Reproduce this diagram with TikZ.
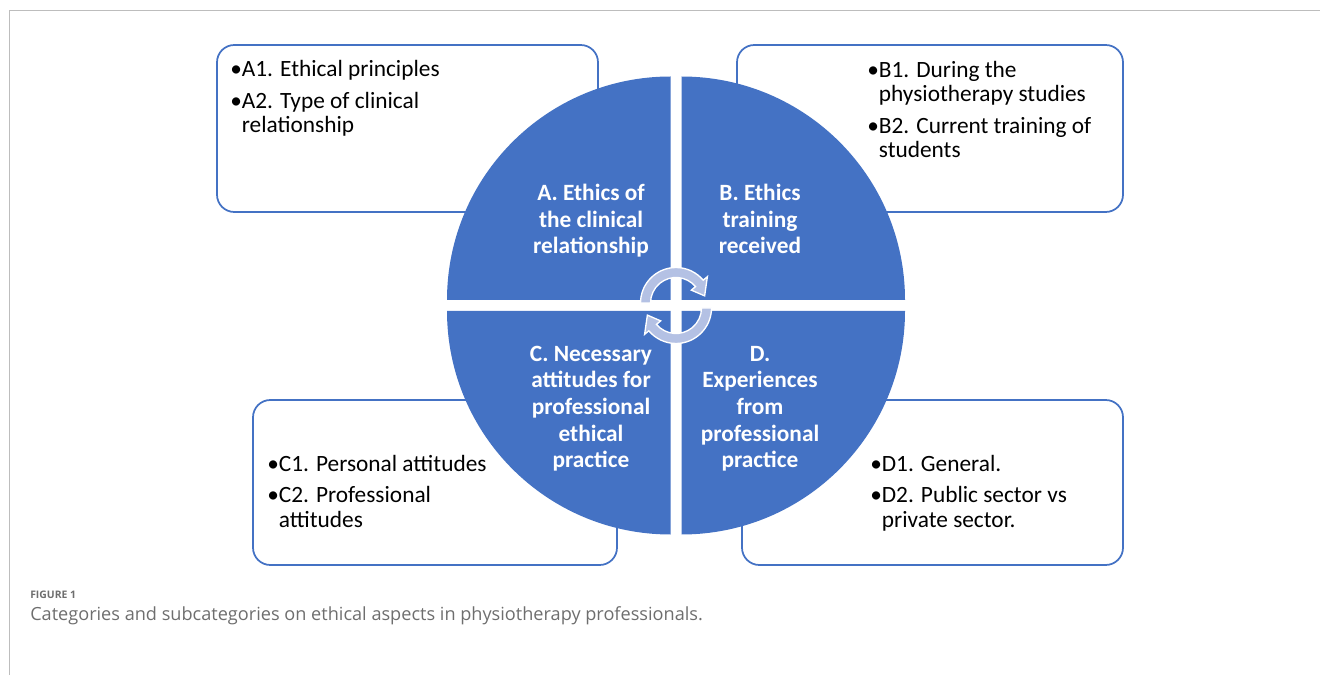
\documentclass[tikz,border=0pt]{standalone}
\usepackage{fontspec}
\setmainfont{Carlito}
\newfontfamily\capfont{Open Sans}
\usetikzlibrary{positioning,fit}

\definecolor{catblue}{HTML}{4472C4}
\definecolor{arrowfill}{HTML}{B4C1E4}
\definecolor{framegray}{HTML}{BDBDBD}
\definecolor{capgray}{HTML}{6E6E6E}

\tikzset{
  catbox/.style={draw=catblue, line width=1.3pt, rounded corners=13pt, inner sep=0pt, fill=white},
  quad/.style={fill=catblue},
  itemtext/.style={font=\fontsize{17.5}{18.5}\selectfont, align=left, inner sep=0pt, anchor=base west},
  cattext/.style={text=white, font=\bfseries\fontsize{17.5}{20}\selectfont, align=center, inner sep=0pt, anchor=base},
  cyclearrow/.style={fill=arrowfill, draw=white, line width=1pt},
}

\begin{document}
\begin{tikzpicture}[x=0.75pt,y=0.75pt]
  \useasboundingbox (0,0) rectangle (1320,675);
  % page frame
  \draw[framegray, line width=0.8pt] (9.5,0) -- (9.5,664.3) -- (1320,664.3);

  % subcategory boxes
  \node[catbox, fit={(217,463) (598,630)}] (boxA) {};
  \node[catbox, fit={(737,463) (1123,630)}] (boxB) {};
  \node[catbox, fit={(253,110) (617,275)}] (boxC) {};
  \node[catbox, fit={(742,110) (1123,275)}] (boxD) {};

  % the four quarters
  \coordinate (c) at (676,369.5);
  \foreach \dx/\dy/\a in {-5.5/5.5/90, 5.5/5.5/0, -5.5/-5.5/180, 5.5/-5.5/270}
    \fill[quad] ([shift={(\dx,\dy)}]c) -- ++(\a:223.5)
      arc[start angle=\a, delta angle=90, radius=223.5] -- cycle;

  % cycle arrows
  \foreach \cy/\o in {372/0, 367/180}
    \draw[cyclearrow, shift={(676,\cy)}]
      (180+\o:35.5) arc[start angle=180+\o, end angle=40+\o, radius=35.5]
      -- (40+\o:41) -- (14+\o:29.5) -- (40+\o:20) -- (40+\o:25.5)
      arc[start angle=40+\o, end angle=180+\o, radius=25.5] -- cycle;

  % categories (placed at the baseline of their last line)
  \node[cattext] (catA) at (591,421) {A. Ethics of\\the clinical\\relationship};
  \node[cattext] (catB) at (760,421) {B. Ethics\\training\\received};
  \node[cattext] (catC) at (591,207) {C. Necessary\\attitudes for\\professional\\ethical\\practice};
  \node[cattext] (catD) at (760,207) {D.\\Experiences\\from\\professional\\practice};

  % subcategories
  \node[itemtext] (subA) at (230,542) {•A1. Ethical principles\\[5pt]•A2. Type of clinical\\\hphantom{•}relationship};
  \node[itemtext] (subB) at (867,517) {•B1. During the\\\hphantom{•}physiotherapy studies\\[5pt]•B2. Current training of\\\hphantom{•}students};
  \node[itemtext] (subC) at (267,148) {•C1. Personal attitudes\\[5pt]•C2. Professional\\\hphantom{•}attitudes};
  \node[itemtext] (subD) at (870,148) {•D1. General.\\[5pt]•D2. Public sector vs\\\hphantom{•}private sector.};

  % caption
  \node[anchor=base west, inner sep=0pt, text=capgray, font=\capfont\bfseries\fontsize{7.8}{9}\selectfont] (figlabel) at (30,77) {FIGURE 1};
  \node[anchor=base west, inner sep=0pt, text=capgray, font=\capfont\fontsize{13.6}{15}\selectfont] (figcaption) at (30,55) {Categories and subcategories on ethical aspects in physiotherapy professionals.};
\end{tikzpicture}
\end{document}
